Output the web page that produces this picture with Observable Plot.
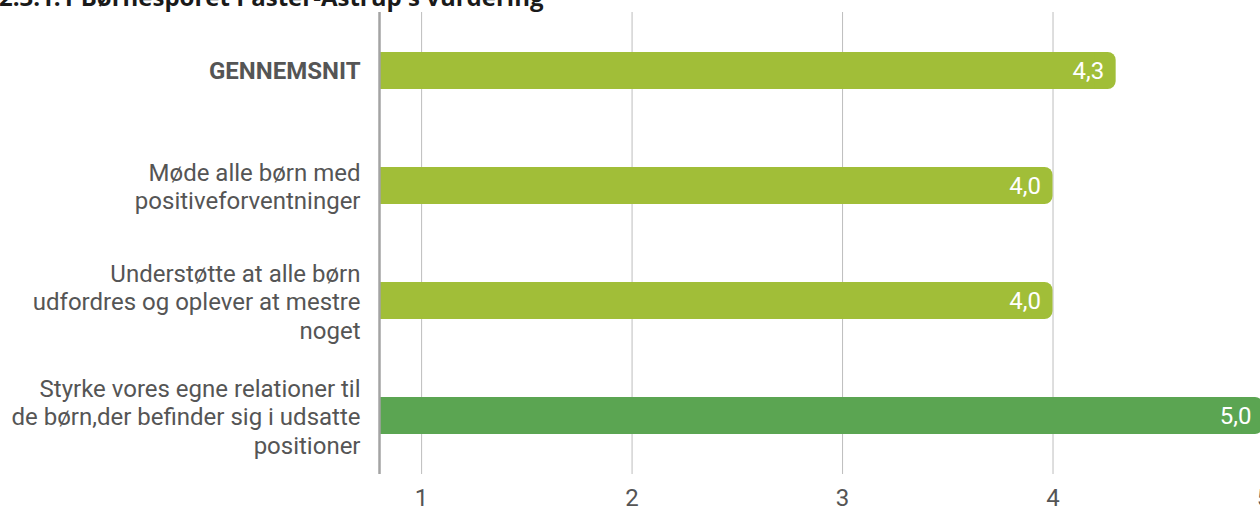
<!DOCTYPE html>
<html>
<head>
<meta charset="utf-8">
<script src="https://cdn.jsdelivr.net/npm/d3@7"></script>
<script src="https://cdn.jsdelivr.net/npm/@observablehq/plot@0.6"></script>
<style>
  html, body { margin: 0; padding: 0; background: #fff; width: 1260px; height: 506px; overflow: hidden; }
  #wrap { position: relative; width: 1260px; height: 506px; }
  #title { position: absolute; left: -1px; top: -15px; font: bold 24px "Open Sans", sans-serif; line-height: 24px; color: #1a1a1a; white-space: nowrap; z-index: 2; }
  #chart { position: absolute; left: 0; top: 0; }
</style>
</head>
<body>
<div id="wrap">
  <div id="title">2.3.1.1 Børnesporet Paster-Astrup's vurdering</div>
  <div id="chart"></div>
</div>
<script>
const categories = [
  "GENNEMSNIT",
  "Møde alle børn med\npositiveforventninger",
  "Understøtte at alle børn\nudfordres og oplever at mestre\nnoget",
  "Styrke vores egne relationer til\nde børn,der befinder sig i udsatte\npositioner"
];
const values = [4.3, 4.0, 4.0, 5.0];
const colors = ["#a1be38", "#a1be38", "#a1be38", "#5ba552"];
const xTicks = [1, 2, 3, 4, 5];

const data = categories.map((c, i) => ({cat: c, value: values[i], color: colors[i]}));
const fmt = v => v.toFixed(1).replace(".", ",");

const chart = Plot.plot({
  width: 1260,
  height: 506,
  marginTop: 12,
  marginBottom: 32,
  marginLeft: 379,
  marginRight: 0,
  style: {fontFamily: "Roboto, sans-serif", background: "transparent", overflow: "hidden"},
  x: {domain: [0.8, 5], range: [379, 1263]},
  y: {domain: categories, paddingInner: 0.68, paddingOuter: 0.34, axis: null},
  marks: [
    Plot.gridX(xTicks, {stroke: "#bdbdbd", strokeOpacity: 1, strokeWidth: 1}),
    Plot.barX(data, {x1: 0.8, x2: "value", y: "cat", fill: "color", rx: 8}),
    Plot.barX(data, {x1: 0.8, x2: d => d.value - 0.1, y: "cat", fill: "color"}),
    Plot.ruleX([0.8], {stroke: "#a3a3a3", strokeWidth: 2.5}),
    Plot.text(data, {x: "value", y: "cat", text: d => fmt(d.value), textAnchor: "end", dx: -12, fill: "#fff", fontSize: 24}),
    Plot.text(data.slice(1), {x: 0.8, y: "cat", text: "cat", textAnchor: "end", dx: -19, fill: "#555", fontSize: 24, lineHeight: 1.19}),
    Plot.text(data.slice(0, 1), {x: 0.8, y: "cat", text: "cat", textAnchor: "end", dx: -19, fill: "#555", fontSize: 24, fontWeight: "bold"}),
    Plot.axisX(xTicks, {tickSize: 0, tickPadding: 14, fontSize: 24, color: "#555", tickFormat: d => String(d), label: null})
  ]
});
document.getElementById("chart").appendChild(chart);
</script>
</body>
</html>
